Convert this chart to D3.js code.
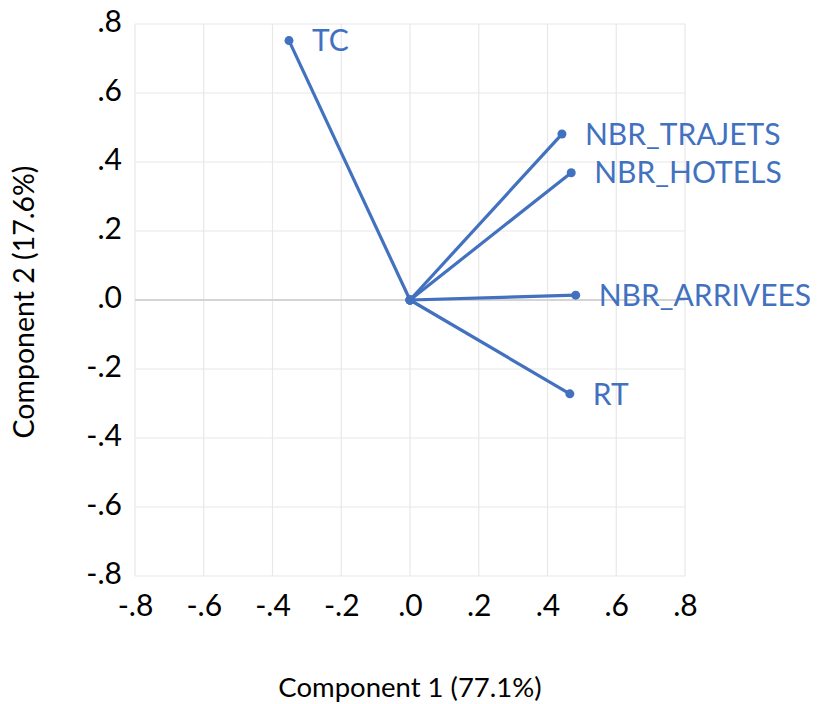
<!DOCTYPE html>
<html><head><meta charset="utf-8">
<script src="https://cdn.jsdelivr.net/npm/d3@7"></script>
<style>body{margin:0;background:#fff}</style>
</head><body>
<svg id="c" width="821" height="704"></svg>
<script>
const variables = ["TC","NBR_TRAJETS","NBR_HOTELS","NBR_ARRIVEES","RT"];
const comp1 = [-0.352, 0.442, 0.469, 0.482, 0.465];
const comp2 = [0.752, 0.481, 0.369, 0.014, -0.272];
const tickValues = [-0.8,-0.6,-0.4,-0.2,0,0.2,0.4,0.6,0.8];
const tickLabels = ["-.8","-.6","-.4","-.2",".0",".2",".4",".6",".8"];
const xTitle = "Component 1 (77.1%)";
const yTitle = "Component 2 (17.6%)";

const svg = d3.select("#c");
const L=135,R=685,T=24,B=576;
const x = d3.scaleLinear().domain([-0.8,0.8]).range([L,R]);
const y = d3.scaleLinear().domain([-0.8,0.8]).range([B,T]);
const blue = "#4271BF";
const font = "Lato, 'Open Sans', sans-serif";
const lab = v => tickLabels[tickValues.indexOf(v)];

// grid
svg.append("g").selectAll("line").data(tickValues).join("line")
  .attr("x1",d=>x(d)).attr("x2",d=>x(d)).attr("y1",T).attr("y2",B)
  .attr("stroke","#e8e8e8").attr("stroke-width",1.2);
svg.append("g").selectAll("line").data(tickValues.filter(v=>v!==0)).join("line")
  .attr("y1",d=>y(d)).attr("y2",d=>y(d)).attr("x1",L).attr("x2",R)
  .attr("stroke","#e8e8e8").attr("stroke-width",1.2);
svg.append("line").attr("x1",L).attr("x2",R).attr("y1",y(0)).attr("y2",y(0))
  .attr("stroke","#d4d4d4").attr("stroke-width",2);

// axes (labels only)
const xAxis = d3.axisBottom(x).tickValues(tickValues).tickFormat(lab).tickSize(0).tickPadding(0);
const gx = svg.append("g").attr("transform",`translate(0,${B+40})`).call(xAxis);
gx.select(".domain").remove();
gx.selectAll("text").attr("font-family",font).attr("font-size",30).attr("fill","#000").attr("dy","0");
const yAxis = d3.axisLeft(y).tickValues(tickValues).tickFormat(lab).tickSize(0).tickPadding(13);
const gy = svg.append("g").attr("transform",`translate(${L},0)`).call(yAxis);
gy.select(".domain").remove();
gy.selectAll("text").attr("font-family",font).attr("font-size",30).attr("fill","#000").attr("dy","0.26em");

// titles
svg.append("text").attr("x",x(0)).attr("y",697).attr("text-anchor","middle")
  .attr("font-family",font).attr("font-size",27.5).text(xTitle);
svg.append("text").attr("transform",`translate(34,${y(0)+2}) rotate(-90)`).attr("text-anchor","middle")
  .attr("font-family",font).attr("font-size",28.5).text(yTitle);

// vectors
const data = variables.map((v,i)=>({name:v,x:comp1[i],y:comp2[i]}));
const g = svg.append("g");
g.selectAll("line").data(data).join("line")
  .attr("x1",x(0)).attr("y1",y(0)).attr("x2",d=>x(d.x)).attr("y2",d=>y(d.y))
  .attr("stroke",blue).attr("stroke-width",3.2);
g.selectAll("circle.o").data(data).join("circle").attr("class","o")
  .attr("cx",x(0)).attr("cy",y(0)).attr("r",4.5).attr("fill",blue);
g.selectAll("circle.e").data(data).join("circle").attr("class","e")
  .attr("cx",d=>x(d.x)).attr("cy",d=>y(d.y)).attr("r",4.5).attr("fill",blue);
g.selectAll("text").data(data).join("text")
  .attr("x",d=>x(d.x)+23).attr("y",d=>y(d.y)).attr("dy","0.36em")
  .attr("font-family",font).attr("font-size",30).attr("fill",blue).text(d=>d.name);
</script>
</body></html>
